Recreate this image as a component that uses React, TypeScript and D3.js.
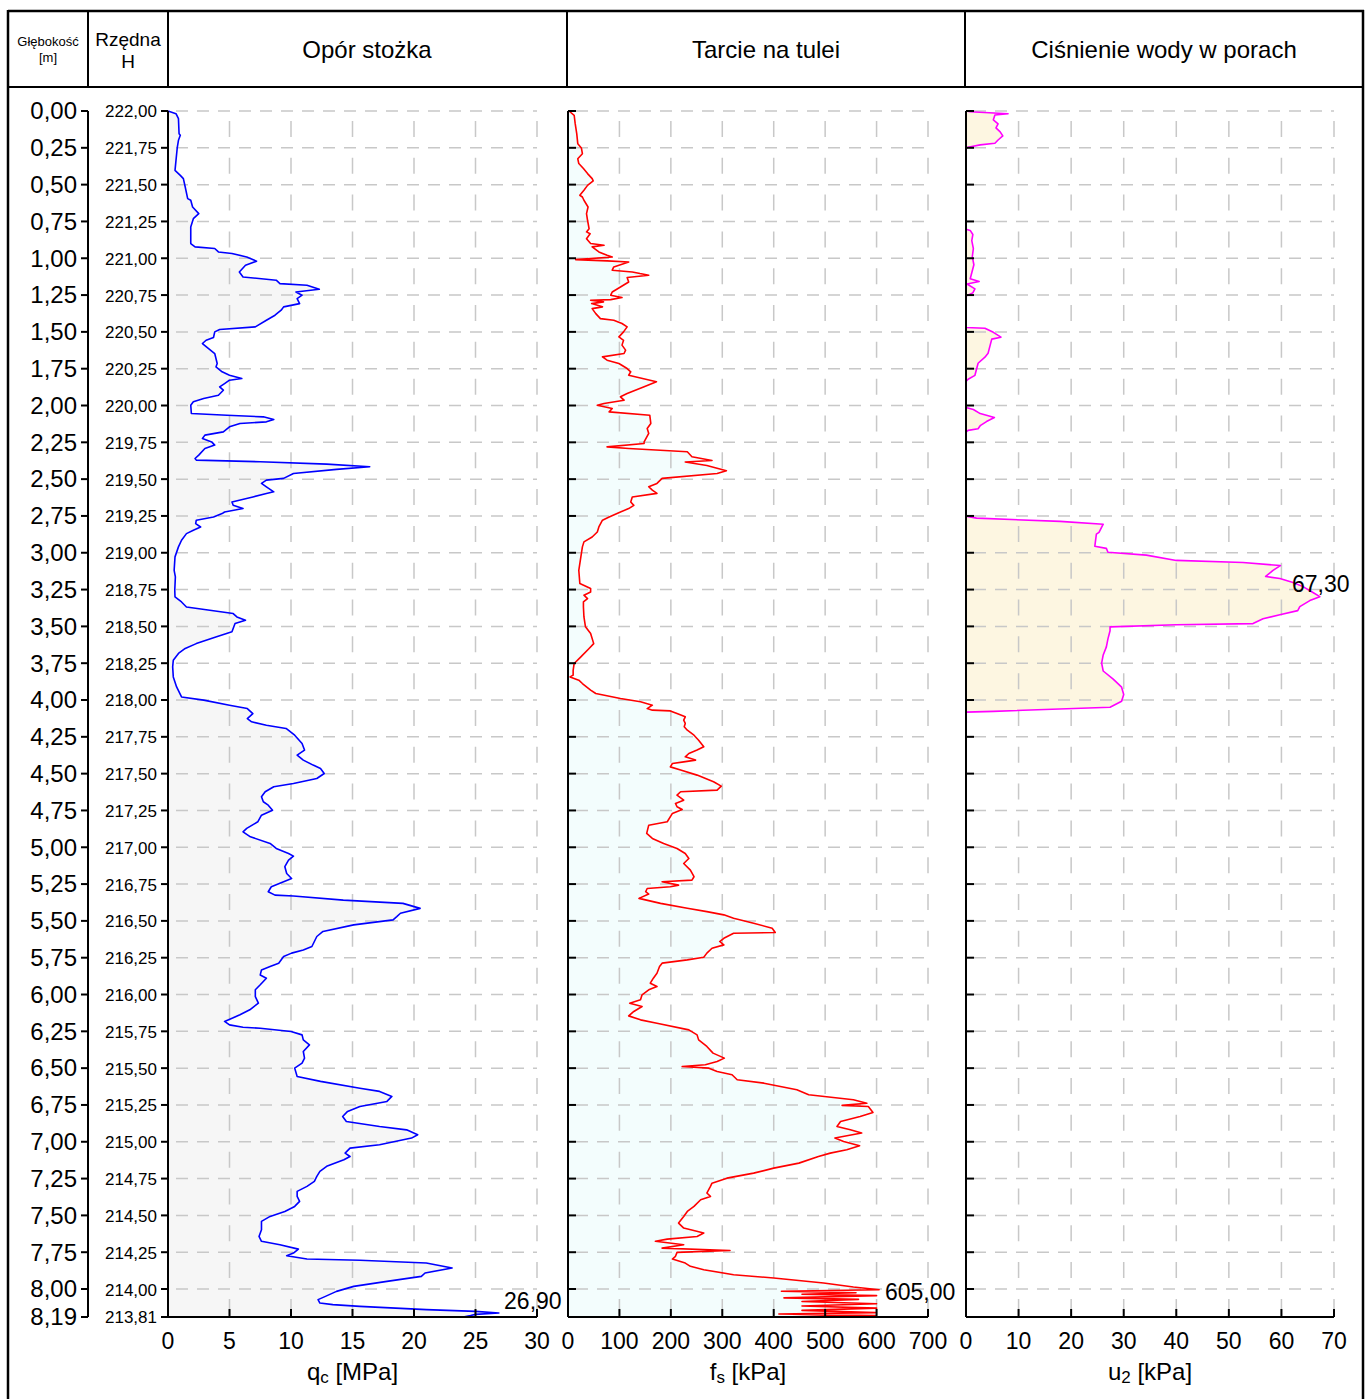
import React from "react";
import * as d3 from "d3";

// ---------- DATA ----------
const depthTicks: number[] = [0, 0.25, 0.5, 0.75, 1, 1.25, 1.5, 1.75, 2, 2.25, 2.5, 2.75, 3, 3.25, 3.5, 3.75, 4, 4.25, 4.5, 4.75, 5, 5.25, 5.5, 5.75, 6, 6.25, 6.5, 6.75, 7, 7.25, 7.5, 7.75, 8, 8.19];
const topElevation = 222.0;
const maxDepth = 8.19;
const qcTicks: number[] = [0, 5, 10, 15, 20, 25, 30];
const fsTicks: number[] = [0, 100, 200, 300, 400, 500, 600, 700];
const u2Ticks: number[] = [0, 10, 20, 30, 40, 50, 60, 70];

const headers: string[] = ["Opór stożka", "Tarcie na tulei", "Ciśnienie wody w porach"];

// [depth m, qc MPa]
const qcData: [number, number][] = [
  [0, 0], [0.018, 0.65], [0.052, 0.85], [0.154, 0.9], [0.165, 1.0], [0.199, 0.85], [0.251, 0.75], [0.335, 0.65], [0.403, 0.57],
  [0.437, 1.0], [0.459, 1.25], [0.516, 1.4], [0.595, 1.6], [0.606, 1.85], [0.652, 2.0], [0.697, 2.5], [0.731, 2.06], [0.787, 1.85],
  [0.9, 1.85], [0.923, 2.2], [0.934, 3.8], [0.957, 4.1], [0.968, 5.2], [0.991, 6.4], [1.02, 7.2], [1.048, 6.3], [1.093, 5.8],
  [1.127, 6.1], [1.149, 8.8], [1.172, 9.1], [1.183, 11.3], [1.21, 12.3], [1.229, 10.4], [1.251, 10.9], [1.274, 10.5], [1.308, 10.7],
  [1.33, 9.4], [1.353, 9.2], [1.387, 8.7], [1.421, 8.0], [1.466, 7.1], [1.484, 4.2], [1.5, 3.8], [1.538, 3.7], [1.557, 3.1],
  [1.579, 2.8], [1.613, 3.3], [1.647, 3.8], [1.715, 4.0], [1.738, 3.9], [1.771, 4.4], [1.794, 5.0], [1.817, 6.0], [1.828, 5.0],
  [1.851, 4.6], [1.873, 4.2], [1.896, 4.5], [1.93, 4.1], [1.952, 2.9], [1.975, 2.06], [1.998, 1.85], [2.054, 1.9], [2.066, 4.8],
  [2.077, 7.75], [2.095, 8.6], [2.111, 8.0], [2.122, 5.85], [2.145, 5.0], [2.179, 4.5], [2.201, 3.0], [2.224, 2.8], [2.247, 3.55],
  [2.269, 3.8], [2.292, 3.0], [2.337, 2.5], [2.36, 2.2], [2.371, 2.3], [2.382, 7.5], [2.398, 12.9], [2.416, 16.4], [2.434, 13.7],
  [2.462, 10.2], [2.495, 9.4], [2.507, 8.0], [2.529, 7.6], [2.552, 8.0], [2.586, 8.6], [2.598, 8.0], [2.621, 6.9], [2.655, 5.2],
  [2.678, 5.3], [2.7, 6.1], [2.723, 4.6], [2.734, 4.4], [2.757, 3.7], [2.779, 2.3], [2.802, 2.25], [2.825, 2.65], [2.847, 2.06],
  [2.87, 1.5], [2.915, 1.1], [2.96, 0.85], [3.028, 0.57], [3.119, 0.5], [3.164, 0.6], [3.255, 0.55], [3.3, 0.57], [3.334, 1.1],
  [3.368, 1.5], [3.39, 3.4], [3.413, 5.3], [3.436, 5.6], [3.458, 6.3], [3.481, 5.45], [3.537, 5.2], [3.571, 3.95], [3.617, 2.3],
  [3.65, 1.4], [3.684, 0.85], [3.73, 0.43], [3.775, 0.38], [3.843, 0.43], [3.911, 0.7], [3.979, 1.1], [4.001, 2.9], [4.035, 5.0],
  [4.058, 6.45], [4.092, 6.9], [4.126, 6.45], [4.148, 6.8], [4.171, 8.0], [4.193, 9.6], [4.239, 10.3], [4.295, 10.9], [4.34, 11.1],
  [4.374, 10.5], [4.408, 11.0], [4.442, 11.8], [4.465, 12.4], [4.499, 12.7], [4.533, 12.1], [4.567, 10.2], [4.589, 8.6], [4.623, 7.9],
  [4.657, 7.6], [4.691, 7.75], [4.714, 8.15], [4.748, 8.5], [4.782, 7.6], [4.827, 7.3], [4.872, 6.4], [4.895, 6.1], [4.929, 6.7],
  [4.974, 8.3], [5.008, 8.8], [5.042, 9.8], [5.06, 10.2], [5.087, 9.8], [5.132, 9.5], [5.178, 9.65], [5.212, 10.05], [5.234, 9.4],
  [5.268, 8.4], [5.302, 8.15], [5.325, 8.7], [5.331, 10.2], [5.359, 14.25], [5.381, 19.1], [5.415, 20.5], [5.448, 18.9], [5.471, 18.6],
  [5.493, 18.3], [5.527, 15.1], [5.572, 12.6], [5.606, 12.1], [5.64, 11.9], [5.674, 11.7], [5.697, 11.0], [5.719, 10.05], [5.742, 9.4],
  [5.787, 9.0], [5.81, 8.3], [5.833, 7.6], [5.867, 7.5], [5.889, 8.0], [5.934, 7.5], [5.968, 7.1], [6.014, 7.1], [6.059, 7.35],
  [6.104, 6.65], [6.138, 5.85], [6.183, 4.6], [6.206, 5.0], [6.222, 6.1], [6.229, 7.5], [6.251, 10.0], [6.274, 10.9], [6.308, 11.0],
  [6.342, 11.5], [6.387, 11.0], [6.432, 11.1], [6.466, 10.9], [6.5, 10.3], [6.557, 10.5], [6.59, 12.4], [6.636, 15.6], [6.658, 17.2],
  [6.692, 18.2], [6.726, 17.8], [6.76, 15.6], [6.794, 14.6], [6.828, 14.2], [6.862, 14.5], [6.896, 17.2], [6.919, 19.4], [6.952, 20.3],
  [6.975, 19.8], [7.02, 17.2], [7.043, 14.8], [7.077, 14.4], [7.1, 14.8], [7.122, 14.3], [7.167, 12.9], [7.201, 12.35], [7.235, 12.1],
  [7.269, 11.9], [7.303, 11.3], [7.337, 10.5], [7.371, 10.5], [7.405, 10.7], [7.439, 10.3], [7.473, 9.5], [7.507, 8.3], [7.541, 7.6],
  [7.597, 7.6], [7.643, 7.4], [7.676, 7.6], [7.699, 9.1], [7.729, 10.6], [7.756, 10.2], [7.774, 9.65], [7.796, 11.3], [7.805, 15.6],
  [7.823, 21.0], [7.857, 23.1], [7.891, 20.9], [7.914, 20.6], [7.948, 17.8], [7.982, 15.1], [8.016, 13.7], [8.05, 12.8], [8.072, 12.2],
  [8.095, 12.35], [8.106, 13.4], [8.118, 15.6], [8.14, 21.0], [8.152, 25.0], [8.163, 26.9], [8.172, 25.0], [8.18, 24.6], [8.19, 24.0]
];

// [depth m, fs kPa]
const fsData: [number, number][] = [
  [0, 2], [0.029, 12], [0.086, 14], [0.154, 17], [0.222, 19], [0.251, 26], [0.29, 28], [0.324, 19], [0.357, 21], [0.391, 30],
  [0.425, 38], [0.459, 47], [0.475, 49], [0.505, 38], [0.538, 31], [0.572, 23], [0.584, 28], [0.606, 31], [0.652, 39], [0.697, 36],
  [0.742, 38], [0.799, 41], [0.821, 36], [0.833, 43], [0.867, 36], [0.9, 44], [0.912, 70], [0.923, 47], [0.957, 60], [0.98, 76],
  [0.991, 86], [1.009, 15], [1.018, 76], [1.025, 118], [1.059, 89], [1.081, 86], [1.093, 125], [1.104, 140], [1.115, 157], [1.131, 115],
  [1.161, 118], [1.195, 102], [1.229, 86], [1.251, 83], [1.267, 105], [1.281, 83], [1.285, 44], [1.296, 69], [1.308, 46], [1.33, 67],
  [1.342, 47], [1.376, 54], [1.41, 63], [1.421, 89], [1.443, 105], [1.466, 115], [1.5, 108], [1.534, 99], [1.557, 108], [1.59, 105],
  [1.624, 112], [1.647, 109], [1.67, 67], [1.692, 76], [1.715, 99], [1.749, 115], [1.771, 122], [1.794, 118], [1.839, 172], [1.873, 148],
  [1.919, 115], [1.941, 102], [1.964, 109], [1.986, 70], [1.998, 57], [2.02, 86], [2.043, 80], [2.066, 159], [2.122, 161], [2.156, 154],
  [2.19, 157], [2.247, 148], [2.258, 148], [2.281, 76], [2.292, 118], [2.314, 232], [2.348, 241], [2.373, 280], [2.384, 228], [2.407, 270],
  [2.443, 308], [2.462, 290], [2.495, 183], [2.529, 173], [2.552, 157], [2.575, 164], [2.597, 173], [2.621, 125], [2.655, 122], [2.678, 128],
  [2.7, 118], [2.723, 102], [2.757, 80], [2.779, 67], [2.825, 60], [2.859, 57], [2.893, 47], [2.926, 31], [2.96, 28], [3.028, 25],
  [3.119, 21], [3.209, 23], [3.243, 44], [3.266, 44], [3.288, 31], [3.311, 38], [3.334, 30], [3.368, 30], [3.436, 31], [3.503, 34],
  [3.549, 44], [3.617, 50], [3.65, 41], [3.707, 25], [3.752, 12], [3.798, 10], [3.831, 10], [3.843, 4], [3.865, 21], [3.888, 28],
  [3.933, 44], [3.956, 54], [3.99, 102], [4.012, 141], [4.035, 164], [4.058, 154], [4.069, 164], [4.074, 199], [4.092, 212], [4.114, 228],
  [4.137, 225], [4.159, 228], [4.182, 226], [4.205, 232], [4.239, 245], [4.273, 254], [4.318, 264], [4.34, 251], [4.363, 235], [4.386, 228],
  [4.408, 248], [4.42, 225], [4.431, 203], [4.454, 199], [4.476, 219], [4.51, 251], [4.555, 283], [4.585, 298], [4.612, 290], [4.623, 219],
  [4.646, 212], [4.68, 225], [4.702, 209], [4.725, 212], [4.743, 222], [4.77, 203], [4.827, 193], [4.85, 157], [4.906, 153], [4.94, 164],
  [4.974, 186], [5.008, 212], [5.042, 228], [5.076, 235], [5.11, 225], [5.155, 238], [5.2, 245], [5.223, 241], [5.234, 183], [5.257, 215],
  [5.268, 199], [5.28, 154], [5.302, 151], [5.318, 157], [5.347, 138], [5.381, 180], [5.414, 232], [5.437, 270], [5.459, 303], [5.482, 322],
  [5.516, 361], [5.55, 397], [5.579, 403], [5.584, 322], [5.618, 303], [5.64, 295], [5.663, 303], [5.686, 280], [5.719, 270], [5.747, 264],
  [5.765, 232], [5.787, 183], [5.81, 178], [5.855, 173], [5.889, 166], [5.923, 160], [5.946, 173], [5.968, 157], [6.002, 144], [6.036, 141],
  [6.059, 120], [6.081, 144], [6.115, 128], [6.145, 118], [6.172, 141], [6.195, 173], [6.24, 235], [6.274, 251], [6.308, 254], [6.353, 270],
  [6.398, 282], [6.432, 304], [6.455, 290], [6.477, 267], [6.489, 222], [6.5, 274], [6.523, 290], [6.545, 319], [6.579, 329], [6.602, 381],
  [6.647, 445], [6.681, 468], [6.715, 555], [6.738, 581], [6.753, 533], [6.76, 584], [6.801, 593], [6.828, 568], [6.862, 530], [6.896, 523],
  [6.919, 549], [6.941, 571], [6.975, 519], [6.998, 536], [7.027, 567], [7.054, 542], [7.077, 510], [7.1, 487], [7.145, 449], [7.179, 400],
  [7.213, 361], [7.247, 309], [7.281, 280], [7.303, 277], [7.348, 270], [7.371, 277], [7.394, 258], [7.439, 245], [7.473, 232], [7.507, 225],
  [7.552, 215], [7.586, 225], [7.62, 264], [7.643, 251], [7.661, 193], [7.676, 170], [7.699, 225], [7.722, 183], [7.738, 315], [7.751, 212],
  [7.778, 209], [7.796, 203], [7.824, 228], [7.846, 238], [7.869, 264], [7.903, 322], [7.925, 400], [7.959, 497], [7.986, 555], [8.005, 605],
  [8.015, 415], [8.025, 560], [8.035, 455], [8.045, 600], [8.06, 420], [8.07, 565], [8.085, 455], [8.1, 600], [8.115, 455], [8.13, 600],
  [8.145, 455], [8.16, 598], [8.17, 410], [8.18, 598], [8.19, 400]
];

// [depth m, u2 kPa]
const u2Data: [number, number][] = [
  [0, 0], [0.005, 0.8], [0.019, 8.0], [0.027, 5.5], [0.06, 5.2], [0.087, 6.1], [0.115, 5.7], [0.142, 6.5], [0.169, 7.0], [0.197, 6.1],
  [0.219, 5.5], [0.23, 2.7], [0.246, 0.4], [0.257, 0], [0.803, 0], [0.811, 0.8], [0.839, 1.3], [0.88, 1.1], [0.934, 1.4], [0.989, 1.2],
  [1.044, 1.5], [1.098, 1.1], [1.139, 0.8], [1.158, 2.5], [1.175, 0.2], [1.208, 1.7], [1.235, 1.3], [1.257, 0], [1.47, 0], [1.475, 3.6],
  [1.503, 5.2], [1.536, 6.65], [1.549, 4.9], [1.59, 4.6], [1.645, 4.2], [1.672, 3.6], [1.713, 2.3], [1.754, 2.0], [1.795, 1.7], [1.822, 0.4],
  [1.836, 0], [2.014, 0], [2.027, 1.4], [2.055, 2.7], [2.082, 5.4], [2.109, 3.9], [2.137, 2.7], [2.158, 2.3], [2.169, 0.4], [2.18, 0],
  [2.751, 0], [2.765, 2.0], [2.787, 17.9], [2.806, 26.1], [2.861, 25.3], [2.874, 24.8], [2.956, 24.5], [2.97, 26.7], [2.997, 27.0], [3.016, 34.3],
  [3.052, 40.0], [3.066, 52.7], [3.087, 59.8], [3.12, 58.4], [3.161, 57.0], [3.175, 59.7], [3.202, 62.2], [3.23, 64.1], [3.27, 66.0], [3.298, 67.3],
  [3.325, 65.4], [3.366, 63.5], [3.393, 63.1], [3.421, 59.7], [3.448, 56.5], [3.481, 54.6], [3.489, 40], [3.503, 27.4], [3.53, 27.4], [3.585, 27.0],
  [3.639, 26.7], [3.694, 26.1], [3.749, 25.8], [3.803, 26.1], [3.858, 28.0], [3.913, 29.6], [3.962, 30.0], [4.008, 29.6], [4.049, 27.4], [4.077, 5.2],
  [4.082, 0], [8.19, 0]
];

// ---------- LAYOUT ----------
const W = 1365;
const H = 1399;
const FONT = "'Liberation Sans', Arial, Helvetica, sans-serif";
const yTop = 111;
const yBot = 1317;

const fmt = (v: number) => v.toFixed(2).replace(".", ",");

type Panel = {
  key: string;
  data: [number, number][];
  ticks: number[];
  range: [number, number];
  color: string;
  fill: string;
  unitMain: string;
  unitSub: string;
  unitRest: string;
  maxDx: number;
  maxDy: number;
};

const panels: Panel[] = [
  { key: "qc", data: qcData, ticks: qcTicks, range: [168, 537], color: "#0000ff", fill: "#f6f6f6", unitMain: "q", unitSub: "c", unitRest: " [MPa]", maxDx: 34, maxDy: -10 },
  { key: "fs", data: fsData, ticks: fsTicks, range: [568, 928], color: "#ff0000", fill: "#f3fdfd", unitMain: "f", unitSub: "s", unitRest: " [kPa]", maxDx: 41, maxDy: 4 },
  { key: "u2", data: u2Data, ticks: u2Ticks, range: [966, 1334], color: "#ff00ff", fill: "#fdf6e1", unitMain: "u", unitSub: "2", unitRest: " [kPa]", maxDx: 1, maxDy: -11 },
];

export default function App() {
  const y = d3.scaleLinear().domain([0, maxDepth]).range([yTop, yBot]);
  const gridDepths = depthTicks.filter((d) => d <= 8.0001);

  return (
    <svg
      width={W}
      height={H}
      viewBox={`0 0 ${W} ${H}`}
      style={{ position: "absolute", left: 0, top: 0, background: "#fff" }}
      fontFamily={FONT}
    >
      <rect x={0} y={0} width={W} height={H} fill="#fff" />

      {panels.map((p) => {
        const x = d3.scaleLinear().domain([p.ticks[0], p.ticks[p.ticks.length - 1]]).range(p.range);
        const area = d3
          .area<[number, number]>()
          .x0(x(0))
          .x1((d) => x(d[1]))
          .y((d) => y(d[0]));
        const line = d3
          .line<[number, number]>()
          .x((d) => x(d[1]))
          .y((d) => y(d[0]));
        const maxPt = p.data.reduce((a, b) => (b[1] > a[1] ? b : a), p.data[0]);
        const x0 = p.range[0];
        const x1 = p.range[1];
        return (
          <g key={p.key}>
            <path d={area(p.data) || ""} fill={p.fill} stroke="none" />
            {gridDepths.map((d) => (
              <line key={"h" + d} x1={x0} x2={x1} y1={y(d)} y2={y(d)} stroke="#c8c8c8" strokeWidth={1.5} strokeDasharray="12,9" strokeDashoffset={-8} />
            ))}
            {p.ticks.slice(1).map((t) => (
              <line key={"v" + t} x1={x(t)} x2={x(t)} y1={yTop} y2={yBot} stroke="#c8c8c8" strokeWidth={1.5} strokeDasharray="16,20.81" strokeDashoffset={-10} />
            ))}
            <path d={line(p.data) || ""} fill="none" stroke={p.color} strokeWidth={1.6} strokeLinejoin="round" />
            <line x1={x0} x2={x1} y1={yBot} y2={yBot} stroke="#000" strokeWidth={2} />
            {p.ticks.map((t) => (
              <g key={"t" + t}>
                <line x1={x(t)} x2={x(t)} y1={yBot} y2={yBot - 8} stroke="#000" strokeWidth={2} />
                <text x={x(t)} y={yBot + 26} fontSize={23} textAnchor="middle" dominantBaseline="middle" fill="#000">
                  {t}
                </text>
              </g>
            ))}
            <text x={(x0 + x1) / 2} y={1374} fontSize={24} textAnchor="middle" dominantBaseline="middle" fill="#000">
              {p.unitMain}
              <tspan fontSize={17} dy={5}>{p.unitSub}</tspan>
              <tspan fontSize={24} dy={-5}>{p.unitRest}</tspan>
            </text>
            <line x1={x0} x2={x0} y1={yTop} y2={yBot} stroke="#000" strokeWidth={2} />
            {p.key !== "qc" &&
              depthTicks.map((d) => (
                <line key={"lt" + d} x1={x0} x2={x0 + 8} y1={y(d)} y2={y(d)} stroke="#000" strokeWidth={2} />
              ))}
            <text x={x(maxPt[1]) + p.maxDx} y={y(maxPt[0]) + p.maxDy} fontSize={23} textAnchor="middle" dominantBaseline="middle" fill="#000">
              {fmt(maxPt[1])}
            </text>
          </g>
        );
      })}

      {/* depth axis */}
      <line x1={88} x2={88} y1={yTop} y2={yBot} stroke="#000" strokeWidth={2} />
      {depthTicks.map((d) => (
        <g key={"d" + d}>
          <line x1={81} x2={88} y1={y(d)} y2={y(d)} stroke="#000" strokeWidth={2} />
          <text x={77} y={y(d) + 2} fontSize={24} textAnchor="end" dominantBaseline="middle" fill="#000">
            {fmt(d)}
          </text>
          <line x1={161} x2={168} y1={y(d)} y2={y(d)} stroke="#000" strokeWidth={2} />
          <text x={157} y={y(d) + 2} fontSize={17} textAnchor="end" dominantBaseline="middle" fill="#000">
            {fmt(topElevation - d)}
          </text>
        </g>
      ))}

      {/* frame and header */}
      <line x1={8} x2={1364} y1={11} y2={11} stroke="#000" strokeWidth={2.5} />
      <line x1={8} x2={1364} y1={87} y2={87} stroke="#000" strokeWidth={2} />
      <line x1={8} x2={8} y1={10} y2={H} stroke="#000" strokeWidth={2.5} />
      <line x1={1363} x2={1363} y1={10} y2={H} stroke="#000" strokeWidth={2.5} />
      {[88, 168, 567, 965].map((xx) => (
        <line key={"div" + xx} x1={xx} x2={xx} y1={11} y2={87} stroke="#000" strokeWidth={2} />
      ))}
      <text x={48} y={43} fontSize={13} textAnchor="middle" dominantBaseline="middle">Głębokość</text>
      <text x={48} y={59} fontSize={13} textAnchor="middle" dominantBaseline="middle">[m]</text>
      <text x={128} y={41} fontSize={19} textAnchor="middle" dominantBaseline="middle">Rzędna</text>
      <text x={128} y={63} fontSize={19} textAnchor="middle" dominantBaseline="middle">H</text>
      {headers.map((h, i) => (
        <text key={h} x={[367, 766, 1164][i]} y={52} fontSize={24} textAnchor="middle" dominantBaseline="middle">
          {h}
        </text>
      ))}
    </svg>
  );
}
